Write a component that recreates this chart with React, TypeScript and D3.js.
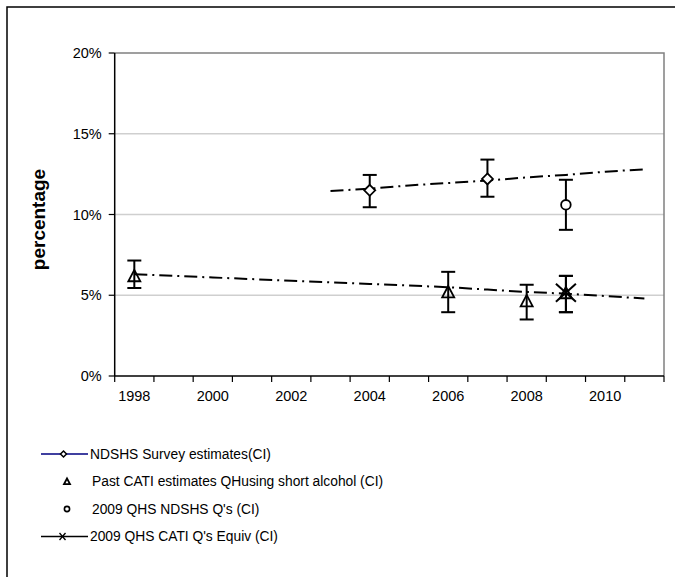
import * as d3 from 'd3';

// categories on the x axis (one band per year)
const years = [1998, 1999, 2000, 2001, 2002, 2003, 2004, 2005, 2006, 2007, 2008, 2009, 2010, 2011];
const yTicks = [0, 5, 10, 15, 20];

// NDSHS survey estimates with CI
const ndshsYears = [2004, 2007];
const ndshsValues = [11.5, 12.2];
const ndshsLow = [10.45, 11.1];
const ndshsHigh = [12.45, 13.4];

// past CATI estimates with CI
const catiYears = [1998, 2006, 2008, 2009];
const catiValues = [6.2, 5.2, 4.65, 5.15];
const catiLow = [5.45, 3.95, 3.5, 3.95];
const catiHigh = [7.15, 6.45, 5.65, 6.2];

// 2009 QHS NDSHS Q's
const qhsYears = [2009];
const qhsValues = [10.6];
const qhsLow = [9.05];
const qhsHigh = [12.15];

// 2009 QHS CATI Q's equiv
const equivYears = [2009];
const equivValues = [5.15];
const equivLow = [3.95];
const equivHigh = [6.2];

// trend lines (dash-dot)
const upperTrendYears = [2003, 2004, 2005, 2006, 2007, 2008, 2009, 2010, 2011];
const upperTrend = [11.45, 11.6, 11.8, 11.95, 12.1, 12.3, 12.45, 12.65, 12.8];
const lowerTrend = [6.3, 6.2, 6.1, 6.0, 5.9, 5.8, 5.7, 5.6, 5.5, 5.35, 5.2, 5.1, 4.95, 4.8];

const legendLabels = [
  'NDSHS Survey estimates(CI)',
  'Past CATI estimates QHusing short alcohol (CI)',
  "2009 QHS NDSHS Q's (CI)",
  "2009 QHS CATI Q's Equiv (CI)",
];

const W = 675;
const H = 577;
const left = 114.7;
const right = 664;
const top = 53;
const bottom = 376;
const font = 'Liberation Sans, Arial, sans-serif';

export default function App() {
  const x = d3.scaleBand<number>().domain(years).range([left, right]);
  const cx = (yr: number) => (x(yr) as number) + x.bandwidth() / 2;
  const y = d3.scaleLinear().domain([0, 20]).range([bottom, top]);

  const line = d3
    .line<[number, number]>()
    .x((d) => cx(d[0]))
    .y((d) => y(d[1]));

  const errBar = (yr: number, lo: number, hi: number, key: string) => (
    <g key={key} stroke="#000" strokeWidth={2}>
      <line x1={cx(yr)} x2={cx(yr)} y1={y(lo)} y2={y(hi)} />
      <line x1={cx(yr) - 7} x2={cx(yr) + 7} y1={y(lo)} y2={y(lo)} />
      <line x1={cx(yr) - 7} x2={cx(yr) + 7} y1={y(hi)} y2={y(hi)} />
    </g>
  );

  const diamond = (px: number, py: number, r: number) =>
    `M${px},${py - r}L${px + r},${py}L${px},${py + r}L${px - r},${py}Z`;
  const triangle = (px: number, py: number, r: number) =>
    `M${px},${py - r}L${px + r},${py + r * 0.9}L${px - r},${py + r * 0.9}Z`;

  const tickEdges = years.map((yr) => x(yr) as number).concat([right]);

  return (
    <svg width={W} height={H} style={{ position: 'absolute', left: 0, top: 0 }}>
      <rect x={0} y={0} width={W} height={H} fill="#fff" />
      <rect x={7} y={7} width={W + 10} height={H + 10} fill="none" stroke="#000" strokeWidth={1.5} />

      {/* gridlines */}
      {[5, 10, 15].map((t) => (
        <line key={t} x1={left} x2={right} y1={y(t)} y2={y(t)} stroke="#cfcfcf" strokeWidth={1.5} />
      ))}
      <path d={`M${left},${top}H${right}V${bottom}`} fill="none" stroke="#808080" strokeWidth={1.5} />

      {/* y axis */}
      <line x1={left} x2={left} y1={top} y2={bottom} stroke="#000" strokeWidth={1.5} />
      {yTicks.map((t) => (
        <g key={t}>
          <line x1={left - 6} x2={left} y1={y(t)} y2={y(t)} stroke="#000" strokeWidth={1.2} />
          <text x={left - 13} y={y(t)} dy="0.35em" textAnchor="end" fontSize={14.5} fontFamily={font}>
            {t}%
          </text>
        </g>
      ))}
      <text
        transform={`translate(45,${(top + bottom) / 2 + 5}) rotate(-90)`}
        textAnchor="middle"
        fontSize={19}
        fontWeight="bold"
        fontFamily={font}
      >
        percentage
      </text>

      {/* x axis */}
      <line x1={left} x2={right} y1={bottom} y2={bottom} stroke="#000" strokeWidth={1.5} />
      {tickEdges.map((tx, i) => (
        <line key={i} x1={tx} x2={tx} y1={bottom} y2={bottom + 6} stroke="#000" strokeWidth={1.2} />
      ))}
      {years
        .filter((yr) => yr % 2 === 0)
        .map((yr) => (
          <text key={yr} x={cx(yr)} y={bottom + 25} textAnchor="middle" fontSize={14.5} fontFamily={font}>
            {yr}
          </text>
        ))}

      {/* trend lines */}
      <path
        d={line(upperTrendYears.map((yr, i) => [yr, upperTrend[i]])) as string}
        fill="none"
        stroke="#000"
        strokeWidth={2}
        strokeDasharray="13 5 2 5"
      />
      <path
        d={line(years.map((yr, i) => [yr, lowerTrend[i]])) as string}
        fill="none"
        stroke="#000"
        strokeWidth={2}
        strokeDasharray="13 5 2 5"
      />

      {/* error bars */}
      {ndshsYears.map((yr, i) => errBar(yr, ndshsLow[i], ndshsHigh[i], 'n' + i))}
      {catiYears.map((yr, i) => errBar(yr, catiLow[i], catiHigh[i], 'c' + i))}
      {qhsYears.map((yr, i) => errBar(yr, qhsLow[i], qhsHigh[i], 'q' + i))}
      {equivYears.map((yr, i) => errBar(yr, equivLow[i], equivHigh[i], 'e' + i))}

      {/* markers */}
      {ndshsYears.map((yr, i) => (
        <path key={yr} d={diamond(cx(yr), y(ndshsValues[i]), 5.5)} fill="#fff" stroke="#000" strokeWidth={1.8} />
      ))}
      {catiYears.map((yr, i) => (
        <path key={yr} d={triangle(cx(yr), y(catiValues[i]), 6)} fill="none" stroke="#000" strokeWidth={1.8} />
      ))}
      {qhsYears.map((yr, i) => (
        <circle key={yr} cx={cx(yr)} cy={y(qhsValues[i])} r={4.8} fill="#fff" stroke="#000" strokeWidth={1.8} />
      ))}
      {equivYears.map((yr, i) => (
        <g key={yr} stroke="#000" strokeWidth={2}>
          <line x1={cx(yr) - 10} x2={cx(yr) + 10} y1={y(equivValues[i]) - 9} y2={y(equivValues[i]) + 9} />
          <line x1={cx(yr) - 10} x2={cx(yr) + 10} y1={y(equivValues[i]) + 9} y2={y(equivValues[i]) - 9} />
        </g>
      ))}

      {/* legend */}
      {legendLabels.map((lab, i) => {
        const ly = 454 + i * 27.5;
        return (
          <g key={lab}>
            {i === 0 && (
              <g>
                <line x1={41} x2={88} y1={ly} y2={ly} stroke="#000080" strokeWidth={1.5} />
                <path d={diamond(63.5, ly, 3)} fill="#fff" stroke="#000" strokeWidth={1.5} />
              </g>
            )}
            {i === 1 && <path d={triangle(67, ly, 3)} fill="none" stroke="#000" strokeWidth={1.8} />}
            {i === 2 && <circle cx={67} cy={ly} r={2.6} fill="none" stroke="#000" strokeWidth={1.6} />}
            {i === 3 && (
              <g stroke="#000" strokeWidth={1.3}>
                <line x1={41} x2={88} y1={ly} y2={ly} />
                <line x1={59.5} x2={65.5} y1={ly - 3.5} y2={ly + 3.5} />
                <line x1={59.5} x2={65.5} y1={ly + 3.5} y2={ly - 3.5} />
              </g>
            )}
            <text x={i === 0 || i === 3 ? 90 : 92} y={ly} dy="0.35em" fontSize={13.8} fontFamily={font}>
              {lab}
            </text>
          </g>
        );
      })}
    </svg>
  );
}
